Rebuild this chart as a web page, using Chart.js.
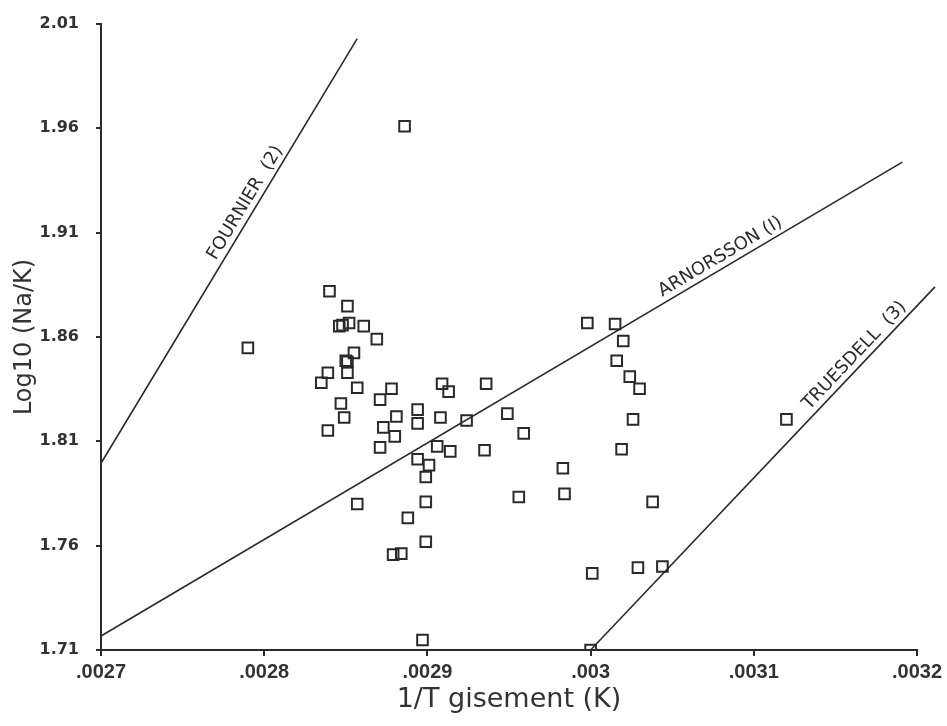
<!DOCTYPE html>
<html>
<head>
<meta charset="utf-8">
<script src="https://cdn.jsdelivr.net/npm/chart.js@4.4.1/dist/chart.umd.min.js"></script>
<style>
  html, body { margin: 0; padding: 0; background: #fff; }
  #wrap { width: 947px; height: 726px; }
</style>
</head>
<body>
<div id="wrap"><canvas id="chart" width="947" height="726"></canvas></div>
<script>
// Axis ticks
const xTicks = [0.0027, 0.0028, 0.0029, 0.003, 0.0031, 0.0032];
const xTickLabels = ['.0027', '.0028', '.0029', '.003', '.0031', '.0032'];
const yTicks = [1.71, 1.76, 1.81, 1.86, 1.91, 1.96, 2.01];

// Samples: 1/T and log10(Na/K)
const sampleX = [
  0.00279, 0.002886, 0.00284, 0.002851, 0.002846, 0.002848, 0.002852, 0.002861,
  0.002869, 0.002855, 0.00285, 0.002851, 0.002851, 0.002839, 0.002835, 0.002857,
  0.002847, 0.002878, 0.002871, 0.002849, 0.002839, 0.002881, 0.002873, 0.00288,
  0.002871, 0.002909, 0.002913, 0.002936, 0.002894, 0.002894, 0.002908, 0.002924,
  0.002949, 0.002959, 0.002906, 0.002914, 0.002935, 0.002894, 0.002901, 0.002899,
  0.002899, 0.002888, 0.002857, 0.002899, 0.002879, 0.002884, 0.002897, 0.002956,
  0.002998, 0.003015, 0.00302, 0.003016, 0.003024, 0.00303, 0.003026, 0.003019,
  0.002983, 0.002984, 0.003038, 0.00312, 0.003001, 0.003029, 0.003044, 0.0030
];
const sampleY = [
  1.8548, 1.961, 1.8819, 1.8748, 1.8652, 1.8657, 1.8667, 1.8652,
  1.859, 1.8524, 1.8486, 1.8481, 1.8429, 1.8429, 1.8381, 1.8357,
  1.8281, 1.8352, 1.83, 1.8214, 1.8152, 1.8219, 1.8167, 1.8124,
  1.8071, 1.8376, 1.8338, 1.8376, 1.8252, 1.8186, 1.8214, 1.82,
  1.8233, 1.8138, 1.8076, 1.8052, 1.8057, 1.8014, 1.7986, 1.7929,
  1.781, 1.7733, 1.78, 1.7619, 1.7557, 1.7562, 1.7148, 1.7833,
  1.8667, 1.8662, 1.8581, 1.8486, 1.841, 1.8352, 1.8205, 1.8062,
  1.7971, 1.7848, 1.781, 1.8205, 1.7467, 1.7495, 1.75, 1.71
];

// Geothermometer lines (end points)
const fournierX = [0.0027, 0.002857];
const fournierY = [1.7995, 2.003];
const arnorssonX = [0.0027, 0.003191];
const arnorssonY = [1.7167, 1.9438];
const truesdellX = [0.003, 0.003211];
const truesdellY = [1.71, 1.884];

function pairs(xs, ys) {
  return xs.map((x, i) => ({ x: x, y: ys[i] }));
}

const lineStyle = {
  type: 'line',
  borderColor: '#2a2a2a',
  borderWidth: 1.6,
  pointRadius: 0,
  fill: false,
  tension: 0,
  clip: false
};

// Labels written along the lines
const lineLabels = [
  { dataset: 1, text: 'FOURNIER  (2)', t: 0.6, offset: 11 },
  { dataset: 2, text: 'ARNORSSON (I)', t: 0.78, offset: 11 },
  { dataset: 3, text: 'TRUESDELL  (3)', t: 0.79, offset: 11 }
];

const lineLabelPlugin = {
  id: 'lineLabels',
  afterDatasetsDraw(chart) {
    const ctx = chart.ctx;
    lineLabels.forEach(lbl => {
      const pts = chart.getDatasetMeta(lbl.dataset).data;
      const p0 = pts[0], p1 = pts[pts.length - 1];
      const a = Math.atan2(p1.y - p0.y, p1.x - p0.x);
      const x = p0.x + (p1.x - p0.x) * lbl.t + Math.sin(a) * lbl.offset;
      const y = p0.y + (p1.y - p0.y) * lbl.t - Math.cos(a) * lbl.offset;
      ctx.save();
      ctx.translate(x, y);
      ctx.rotate(a);
      ctx.font = '18px "DejaVu Sans"';
      ctx.fillStyle = '#2a2a2a';
      ctx.textAlign = 'center';
      ctx.textBaseline = 'middle';
      ctx.fillText(lbl.text, 0, 0);
      ctx.restore();
    });
  }
};

new Chart(document.getElementById('chart'), {
  type: 'scatter',
  data: {
    datasets: [
      {
        data: pairs(sampleX, sampleY),
        pointStyle: 'rect',
        pointRadius: 7.5,
        pointBorderWidth: 2,
        pointBorderColor: '#2a2a2a',
        pointBackgroundColor: 'rgba(255,255,255,0)'
      },
      Object.assign({ data: pairs(fournierX, fournierY) }, lineStyle),
      Object.assign({ data: pairs(arnorssonX, arnorssonY) }, lineStyle),
      Object.assign({ data: pairs(truesdellX, truesdellY) }, lineStyle)
    ]
  },
  options: {
    responsive: false,
    animation: false,
    layout: { padding: { top: 24, right: 30, bottom: 0, left: 0 } },
    plugins: {
      legend: { display: false },
      tooltip: { enabled: false }
    },
    scales: {
      x: {
        type: 'linear',
        min: 0.0027,
        max: 0.0032,
        afterBuildTicks: scale => { scale.ticks = xTicks.map(v => ({ value: v })); },
        afterFit: scale => { scale.height = 76; },
        ticks: {
          callback: (v, i) => xTickLabels[i],
          font: { family: 'Liberation Sans', size: 20, weight: 'bold' },
          color: '#333',
          padding: 4,
          maxRotation: 0
        },
        grid: { drawOnChartArea: false, tickLength: 6, color: '#2a2a2a', lineWidth: 2 },
        border: { color: '#2a2a2a', width: 2 },
        title: {
          display: true,
          text: '1/T gisement (K)',
          font: { family: 'DejaVu Sans', size: 27 },
          color: '#333',
          padding: { top: 0, bottom: 10 }
        }
      },
      y: {
        min: 1.71,
        max: 2.01,
        afterBuildTicks: scale => { scale.ticks = yTicks.map(v => ({ value: v })); },
        afterFit: scale => {
          scale.width = 101;
          scale.paddingTop = 0;
          scale.paddingBottom = 0;
        },
        ticks: {
          callback: v => v.toFixed(2),
          font: { family: 'DejaVu Sans', size: 16, weight: 'bold' },
          color: '#333',
          padding: 17
        },
        grid: { drawOnChartArea: false, tickLength: 5, color: '#2a2a2a', lineWidth: 2 },
        border: { color: '#2a2a2a', width: 2 },
        title: {
          display: true,
          text: 'Log10 (Na/K)',
          font: { family: 'DejaVu Sans', size: 24 },
          color: '#333',
          padding: { top: 10, bottom: 0 }
        }
      }
    }
  },
  plugins: [lineLabelPlugin]
});
</script>
</body>
</html>
